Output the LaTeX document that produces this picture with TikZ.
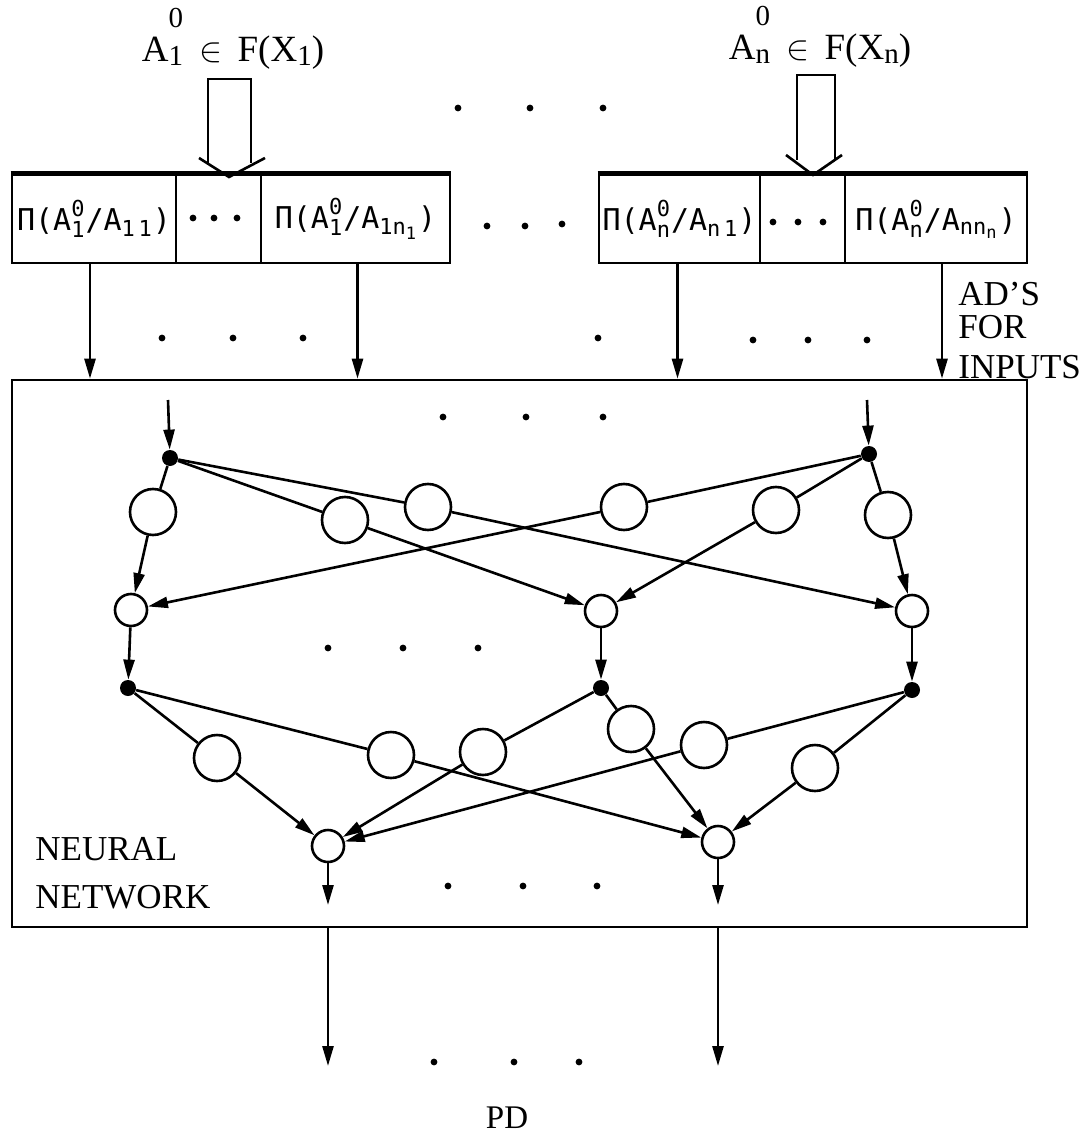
\documentclass[tikz,border=0pt]{standalone}
\usepackage{amsmath}
\usepackage{fontspec}
\setmainfont{Liberation Serif}
\newfontfamily\monof{DejaVu Sans Mono}
\usetikzlibrary{arrows.meta}
\newcommand\mtx[1]{\hbox{\monof #1}}
\newcommand\msc[1]{\hbox{\fontsize{11}{11}\selectfont\monof #1}}
\newcommand\mssc[1]{\hbox{\fontsize{8.5}{9}\selectfont\monof #1}}
\newcommand\tsz{\fontsize{14.5}{15}\selectfont}
\newcommand\tsup[2]{\rlap{\raisebox{17pt}{\tsz #1}}\raisebox{-2pt}{\tsz #2}}
\newcommand\plab[2]{$\mtx{Π(A}^{\msc{0}}_{\msc{#1}}\mtx{/A}_{#2}\mtx{)}$}
\begin{document}
\begin{tikzpicture}[x=0.5pt,y=-0.5pt,
  ln/.style={line width=1.3pt},
  arr/.style={ln,-{Triangle[length=10pt,width=5.5pt]}},
  big/.style={circle,draw,ln,fill=white,minimum size=23pt,inner sep=0pt},
  small/.style={circle,draw,ln,fill=white,minimum size=16pt,inner sep=0pt},
  dotn/.style={circle,fill=black,minimum size=8pt,inner sep=0pt},
  cell/.style={draw,ln,minimum height=44pt,inner sep=0pt,font=\fontsize{15}{17}\selectfont},
  side/.style={font=\fontsize{17.5}{20}\selectfont,anchor=base west,inner sep=0pt},
  ttl/.style={font=\fontsize{18.5}{22}\selectfont,anchor=base,inner sep=0pt}]
\useasboundingbox (0,0) rectangle (1082,1134);

% titles
\node[ttl] (t1) at (233,62) {A\tsup{0}{1}\hspace{0.45em}$\in$\hspace{0.4em}F(X\raisebox{-2pt}{\tsz 1})};
\node[ttl] (t2) at (820,60) {A\tsup{0}{n}\hspace{0.45em}$\in$\hspace{0.4em}F(X\raisebox{-2pt}{\tsz n})};

% hollow arrows
\draw[ln] (208,164) -- (208,79) -- (251,79) -- (251,163);
\draw[ln] (199,158) -- (229,177) -- (265,158);
\draw[ln] (797,160) -- (797,75) -- (835,75) -- (835,160);
\draw[ln] (786,155) -- (813,175) -- (842,155);

% input cells
\node[cell,minimum width=82pt] (L1) at (94,219) {\plab{1}{\msc{1\,1}}};
\node[cell,minimum width=42.5pt] (L2) at (218.5,219) {};
\node[cell,minimum width=94.5pt] (L3) at (355.5,219) {\plab{1}{\msc{1}\msc{n}_{\mssc{1}}}};
\node[cell,minimum width=80.5pt] (R1) at (679.5,219) {\plab{n}{\msc{n\,1}}};
\node[cell,minimum width=42.5pt] (R2) at (802.5,219) {};
\node[cell,minimum width=91pt] (R3) at (936,219) {\plab{n}{\msc{n}\msc{n}_{\mssc{n}}}};
\draw[line width=2.6pt] (L1.north west) -- (L3.north east);
\draw[line width=2.6pt] (R1.north west) -- (R3.north east);

% neural network box
\node[draw,ln,minimum width=507.5pt,minimum height=273.5pt,inner sep=0pt] (NN) at (519.5,653.5) {};

% arrows from cells
\draw[arr] ([xshift=-2pt]L1.south) -- ([xshift=-2pt]L1.south |- NN.north);
\draw[arr] ([xshift=1pt]L3.south) -- ([xshift=1pt]L3.south |- NN.north);
\draw[arr] ([xshift=-1pt]R1.south) -- ([xshift=-1pt]R1.south |- NN.north);
\draw[arr] ([xshift=3pt]R3.south) -- ([xshift=3pt]R3.south |- NN.north);

% side labels
\node[side] (ad1) at (958,305) {AD’S};
\node[side] (ad2) at (958,338) {FOR};
\node[side] (ad3) at (958,378) {INPUTS};
\node[side] (nn1) at (35,860) {NEURAL};
\node[side] (nn2) at (35,908) {NETWORK};
\node[font=\fontsize{16.5}{18}\selectfont,anchor=base,inner sep=0pt] (pd) at (507,1128) {PD};

% network nodes
\node[dotn] (D1) at (170,458) {};
\node[dotn] (D2) at (869,454) {};
\node[big] (C1) at (153,512) {};
\node[big] (C2) at (345,520) {};
\node[big] (C3) at (428,507) {};
\node[big] (C4) at (624,507) {};
\node[big] (C5) at (776,510) {};
\node[big] (C6) at (888,515) {};
\node[small] (S1) at (131,610) {};
\node[small] (S2) at (601,611) {};
\node[small] (S3) at (912,611) {};
\node[dotn] (D3) at (128,688) {};
\node[dotn] (D4) at (601,688) {};
\node[dotn] (D5) at (912,690) {};
\node[big] (E1) at (217,758) {};
\node[big] (E2) at (391,755) {};
\node[big] (E3) at (483,752) {};
\node[big] (E4) at (631,729) {};
\node[big] (E5) at (704,745) {};
\node[big] (E6) at (815,768) {};
\node[small] (F1) at (328,846) {};
\node[small] (F2) at (718,842) {};

\coordinate (in1) at (168,400);
\coordinate (in2) at (867,400);
\coordinate (o1) at (328,905);
\coordinate (o2) at (718,905);
\coordinate (p1) at (328,1066);
\coordinate (p2) at (718,1066);

\draw[arr] (in1) -- (D1);
\draw[arr] (in2) -- (D2);
\draw[ln] (D1) -- (C1); \draw[arr] (C1) -- (S1);
\draw[ln] (D1) -- (C2); \draw[arr] (C2) -- (S2);
\draw[ln] (D1) -- (C3); \draw[arr] (C3) -- (S3);
\draw[ln] (D2) -- (C4); \draw[arr] (C4) -- (S1);
\draw[ln] (D2) -- (C5); \draw[arr] (C5) -- (S2);
\draw[ln] (D2) -- (C6); \draw[arr] (C6) -- (S3);
\draw[arr] (S1) -- (D3);
\draw[arr] (S2) -- (D4);
\draw[arr] (S3) -- (D5);
\draw[ln] (D3) -- (E1); \draw[arr] (E1) -- (F1);
\draw[ln] (D3) -- (E2); \draw[arr] (E2) -- (F2);
\draw[ln] (D4) -- (E3); \draw[arr] (E3) -- (F1);
\draw[ln] (D4) -- (E4); \draw[arr] (E4) -- (F2);
\draw[ln] (D5) -- (E5); \draw[arr] (E5) -- (F1);
\draw[ln] (D5) -- (E6); \draw[arr] (E6) -- (F2);
\draw[arr] (F1) -- (o1);
\draw[arr] (F2) -- (o2);
\draw[arr] (NN.south -| F1) -- (p1);
\draw[arr] (NN.south -| F2) -- (p2);

% ellipsis dots
\foreach \x/\y in {458/108,530/108,603/108,
  487/226,525/226,562/224,
  193/218,214/218,237/218,773/222,798/222,823/222,
  162/338,233/338,303/338,598/338,753/340,808/340,867/340,
  443/417,526/417,603/417,
  328/648,403/648,478/648,
  448/886,523/886,597/886,
  434/1062,514/1062,579/1062}
  \fill (\x,\y) circle[radius=1.7pt];
\end{tikzpicture}
\end{document}
